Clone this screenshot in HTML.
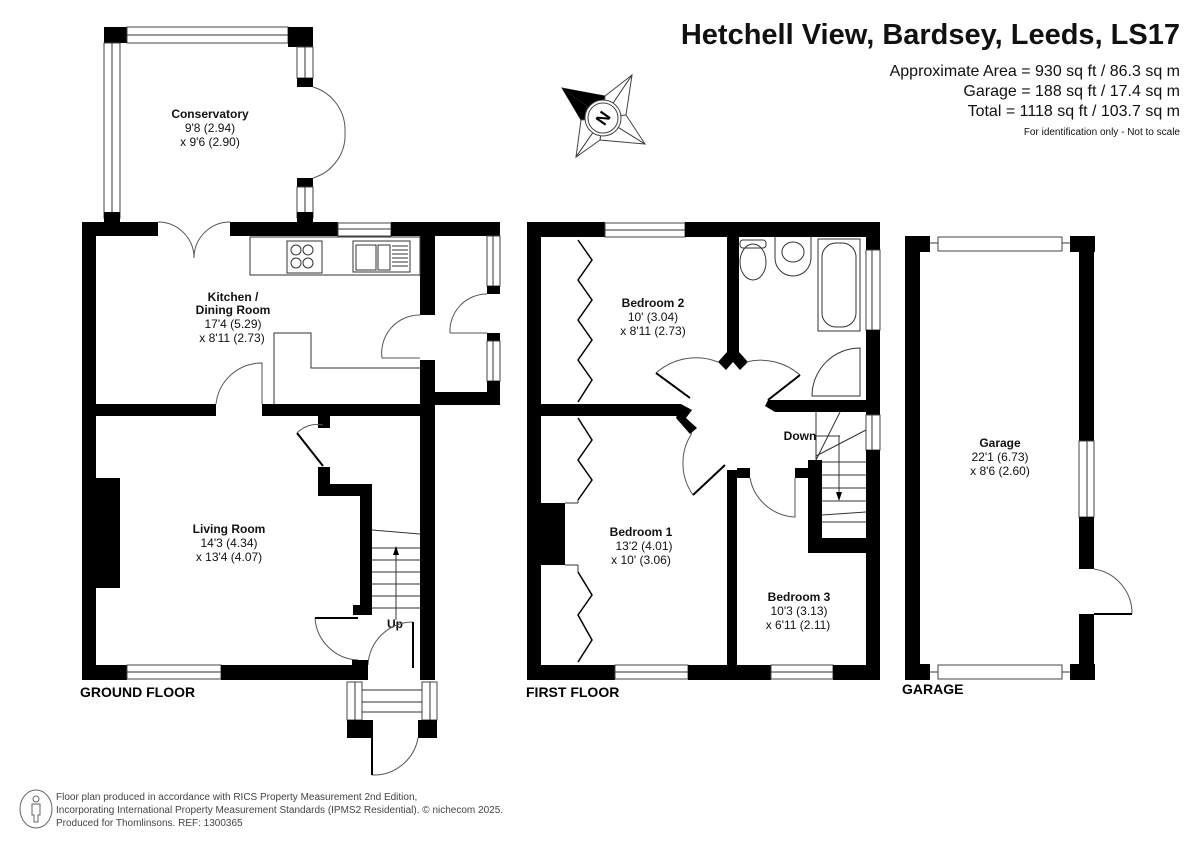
<!DOCTYPE html>
<html><head><meta charset="utf-8"><style>
html,body{margin:0;padding:0;background:#fff;}
svg{display:block;font-family:"Liberation Sans",Arial,sans-serif;}
.w{fill:#000}
.win{fill:#fff;stroke:#444;stroke-width:1}
.ln{fill:none;stroke:#333;stroke-width:1}
.arc{fill:none;stroke:#555;stroke-width:1}
.t{font-size:12px;text-anchor:middle;fill:#111}
.b{font-weight:bold}
</style></head><body>
<svg width="1200" height="849" viewBox="0 0 1200 849" xmlns="http://www.w3.org/2000/svg">
<!-- Header -->
<text x="1180" y="44" text-anchor="end" font-size="29" font-weight="bold" fill="#111">Hetchell View, Bardsey, Leeds, LS17</text>
<text x="1180" y="76" text-anchor="end" font-size="16" fill="#111">Approximate Area = 930 sq ft / 86.3 sq m</text>
<text x="1180" y="96" text-anchor="end" font-size="16" fill="#111">Garage  = 188 sq ft / 17.4 sq m</text>
<text x="1180" y="116" text-anchor="end" font-size="16" fill="#111">Total = 1118 sq ft / 103.7 sq m</text>
<text x="1180" y="135" text-anchor="end" font-size="10" fill="#111">For identification only - Not to scale</text>
<!-- Compass -->
<g>
<polygon points="562,88 605,96 603,118 581,120" fill="#fff" stroke="#444"/>
<polygon points="562,88 603,118 581,120" fill="#000"/>
<polygon points="562,88 605,96 603,118" fill="#000"/>
<polygon points="632,75 626,115 603,118 605,96" fill="#fff" stroke="#444"/>
<polygon points="645,144 600,140 603,118 626,115" fill="#fff" stroke="#444"/>
<polygon points="576,157 581,120 603,118 600,140" fill="#fff" stroke="#444"/>
<line x1="632" y1="75" x2="603" y2="118" class="ln"/>
<line x1="645" y1="144" x2="603" y2="118" class="ln"/><line x1="576" y1="157" x2="603" y2="118" class="ln"/>
<circle cx="603" cy="118" r="18" fill="#fff" stroke="#444"/>
<circle cx="603" cy="118" r="15" fill="#fff" stroke="#444"/>
<text x="603" y="124" font-size="17" font-weight="bold" text-anchor="middle" transform="rotate(-55 603 118)">N</text>
</g>

<!-- GROUND FLOOR -->
<rect x="104" y="27" width="23" height="16" class="w"/>
<rect x="127" y="27" width="161" height="16" class="win"/><line x1="127" y1="35" x2="288" y2="35" class="ln"/>
<rect x="288" y="27" width="25" height="20" class="w"/>
<rect x="104" y="43" width="16" height="175" class="win"/><line x1="112" y1="43" x2="112" y2="218" class="ln"/>
<rect x="104" y="212" width="16" height="10" class="w"/>
<rect x="297" y="47" width="16" height="31" class="win"/><line x1="305" y1="47" x2="305" y2="78" class="ln"/>
<rect x="297" y="78" width="16" height="9" class="w"/>
<rect x="297" y="178" width="16" height="9" class="w"/>
<rect x="297" y="187" width="16" height="31" class="win"/><line x1="305" y1="187" x2="305" y2="218" class="ln"/>
<rect x="297" y="212" width="16" height="10" class="w"/>
<path d="M313,87 A45,45 0 0 1 345,132 M313,178 A45,45 0 0 0 345,132" class="arc"/>
<path d="M158,222 A36,36 0 0 1 194,258 M230,222 A36,36 0 0 0 194,258" class="arc"/>
<rect x="82" y="222" width="76" height="14" class="w"/>
<rect x="230" y="222" width="108" height="14" class="w"/>
<rect x="338" y="223" width="53" height="13" class="win"/><line x1="338" y1="229" x2="391" y2="229" class="ln"/>
<rect x="391" y="222" width="109" height="14" class="w"/>
<rect x="82" y="222" width="14" height="458" class="w"/>
<rect x="420" y="222" width="15" height="93" class="w"/>
<rect x="420" y="360" width="15" height="320" class="w"/>
<rect x="487" y="222" width="13" height="14" class="w"/>
<rect x="487" y="236" width="13" height="50" class="win"/><line x1="493" y1="236" x2="493" y2="286" class="ln"/>
<rect x="487" y="286" width="13" height="8" class="w"/>
<rect x="487" y="333" width="13" height="8" class="w"/>
<rect x="487" y="341" width="13" height="40" class="win"/><line x1="493" y1="341" x2="493" y2="381" class="ln"/>
<rect x="487" y="381" width="13" height="24" class="w"/>
<rect x="420" y="392" width="80" height="13" class="w"/>
<path d="M382,358 A38,38 0 0 1 420,315 M382,358 L420,358" class="arc"/>
<path d="M450,333 A37,37 0 0 1 487,294 M450,333 L487,333" class="arc"/>
<rect x="96" y="404" width="120" height="12" class="w"/>
<rect x="262" y="404" width="158" height="12" class="w"/>
<path d="M216,404 A46,46 0 0 1 262,363 L262,404" class="arc"/>
<rect x="250" y="237" width="170" height="38" class="ln"/>
<rect x="287" y="241" width="35" height="32" class="ln"/>
<circle cx="296" cy="250" r="5" class="ln"/><circle cx="308" cy="250" r="5" class="ln"/><circle cx="296" cy="263" r="5" class="ln"/><circle cx="308" cy="263" r="5" class="ln"/>
<rect x="353" y="241" width="57" height="31" class="ln"/>
<rect x="356" y="245" width="20" height="25" class="ln"/><rect x="378" y="245" width="12" height="25" class="ln"/>
<path d="M392,246 h16 M392,250 h16 M392,254 h16 M392,258 h16 M392,262 h16 M392,266 h16" class="ln"/>
<path d="M274,404 V333 H311 V368 H420" class="ln"/>
<rect x="96" y="478" width="24" height="110" class="w"/>
<rect x="82" y="665" width="45" height="15" class="w"/>
<rect x="127" y="665" width="94" height="14" class="win"/><line x1="127" y1="672" x2="221" y2="672" class="ln"/>
<rect x="221" y="665" width="145" height="15" class="w"/>
<rect x="318" y="416" width="12" height="12" class="w"/>
<line x1="297" y1="433" x2="323" y2="466" stroke="#000" stroke-width="2"/>
<path d="M297,433 A28,28 0 0 1 323,425" class="arc"/>
<rect x="318" y="467" width="12" height="28" class="w"/>
<rect x="318" y="484" width="54" height="12" class="w"/>
<rect x="360" y="484" width="12" height="130" class="w"/>
<rect x="353" y="605" width="19" height="10" class="w"/>
<path d="M372,530 L420,534 M372,548 H420 M372,560 H420 M372,572 H420 M372,584 H420 M372,596 H420 M372,608 H420" class="ln"/>
<line x1="396" y1="620" x2="396" y2="548" class="ln"/><polygon points="393,555 396,546 399,555" fill="#000"/>
<path d="M315,618 A45,45 0 0 0 358,660" class="arc"/>
<line x1="315" y1="618" x2="358" y2="618" stroke="#000" stroke-width="2"/>
<text x="395" y="628" class="t b" font-size="10">Up</text>
<path d="M368,665 A45,45 0 0 1 413,622" class="arc"/>
<line x1="413" y1="622" x2="413" y2="668" stroke="#000" stroke-width="2"/>
<rect x="352" y="660" width="16" height="20" class="w"/>
<rect x="347" y="682" width="15" height="38" class="win"/><line x1="355" y1="682" x2="355" y2="720" class="ln"/>
<rect x="422" y="682" width="15" height="38" class="win"/><line x1="430" y1="682" x2="430" y2="720" class="ln"/>
<path d="M362,690 H422 M362,702 H422 M362,712 H422" class="ln"/>
<rect x="347" y="720" width="26" height="18" class="w"/>
<rect x="418" y="720" width="19" height="18" class="w"/>
<path d="M372,775 A45,45 0 0 0 418,738" class="arc"/><line x1="372" y1="738" x2="372" y2="775" stroke="#000" stroke-width="2"/>
<text x="210" y="118" class="t b">Conservatory</text><text x="210" y="132" class="t">9'8 (2.94)</text><text x="210" y="146" class="t">x 9'6 (2.90)</text>
<text x="233" y="301" class="t b">Kitchen /</text><text x="233" y="314" class="t b">Dining Room</text><text x="233" y="328" class="t">17'4 (5.29)</text><text x="232" y="342" class="t">x 8'11 (2.73)</text>
<text x="229" y="533" class="t b">Living Room</text><text x="229" y="547" class="t">14'3 (4.34)</text><text x="229" y="561" class="t">x 13'4 (4.07)</text>
<text x="80" y="697" font-size="14" font-weight="bold">GROUND FLOOR</text>

<!-- FIRST FLOOR -->
<rect x="527" y="222" width="78" height="15" class="w"/>
<rect x="605" y="223" width="80" height="14" class="win"/><line x1="605" y1="230" x2="685" y2="230" class="ln"/>
<rect x="685" y="222" width="195" height="15" class="w"/>
<rect x="527" y="222" width="14" height="458" class="w"/>
<rect x="866" y="222" width="14" height="28" class="w"/>
<rect x="866" y="250" width="14" height="80" class="win"/><line x1="872" y1="250" x2="872" y2="330" class="ln"/>
<rect x="866" y="330" width="14" height="85" class="w"/>
<rect x="866" y="415" width="14" height="35" class="win"/><line x1="872" y1="415" x2="872" y2="450" class="ln"/>
<rect x="866" y="450" width="14" height="230" class="w"/>
<rect x="527" y="665" width="88" height="15" class="w"/>
<rect x="615" y="665" width="73" height="14" class="win"/><line x1="615" y1="672" x2="688" y2="672" class="ln"/>
<rect x="688" y="665" width="83" height="15" class="w"/>
<rect x="771" y="665" width="62" height="14" class="win"/><line x1="771" y1="672" x2="833" y2="672" class="ln"/>
<rect x="833" y="665" width="47" height="15" class="w"/>
<rect x="727" y="237" width="12" height="118" class="w"/>
<polygon points="718,362 727,352 739,352 748,362 740,370 733,362 726,370" class="w"/>
<rect x="541" y="404" width="140" height="12" class="w"/>
<polygon points="681,404 692,410 686,418 697,428 690,434 676,418" class="w"/>
<polygon points="768,400 866,400 866,412 775,412 765,406" class="w"/>
<rect x="727" y="470" width="10" height="195" class="w"/>
<rect x="737" y="468" width="13" height="10" class="w"/>
<rect x="795" y="468" width="13" height="10" class="w"/>
<rect x="808" y="460" width="14" height="93" class="w"/>
<rect x="808" y="538" width="58" height="15" class="w"/>
<rect x="541" y="503" width="24" height="62" class="w"/>
<path d="M656,373 A60,60 0 0 1 718,362 M746,362 A60,60 0 0 1 800,375" class="arc"/>
<line x1="656" y1="373" x2="690" y2="398" stroke="#000" stroke-width="2"/>
<line x1="800" y1="375" x2="768" y2="400" stroke="#000" stroke-width="2"/>
<path d="M692,433 A55,55 0 0 0 693,495" class="arc"/>
<line x1="693" y1="495" x2="725" y2="465" stroke="#000" stroke-width="2"/>
<path d="M750,478 A48,48 0 0 0 795,517 V478" class="arc"/>
<path d="M816,412 V460 M816,436 H840 M816,460 L840,412 M816,456 L866,430 M822,462 H866 M822,475 H866 M822,488 H866 M822,501 H866 M822,515 L866,512 M822,522 H866" class="ln"/>
<line x1="839" y1="436" x2="839" y2="500" class="ln"/><polygon points="836,492 839,501 842,492" fill="#000"/>
<text x="800" y="440" class="t b" font-size="10">Down</text>
<ellipse cx="753" cy="262" rx="13" ry="18" class="ln"/><rect x="740" y="240" width="26" height="8" rx="3" class="ln"/>
<path d="M775,237 V258 A18,18 0 0 0 811,258 V237" class="ln"/><ellipse cx="793" cy="252" rx="11" ry="10" class="ln"/>
<rect x="818" y="239" width="42" height="92" class="ln"/><rect x="822" y="243" width="34" height="84" rx="14" class="ln"/>
<path d="M812,396 H860 V348 A48,48 0 0 0 812,396 Z" class="ln"/>
<path d="M578,240 L592,260 L578,280 L592,300 L578,320 L592,340 L578,360 L592,380 L578,402" fill="none" stroke="#000" stroke-width="1.5"/>
<path d="M578,418 L592,440 L578,460 L592,480 L578,500" fill="none" stroke="#000" stroke-width="1.5"/>
<path d="M578,572 L592,595 L578,615 L592,640 L578,662" fill="none" stroke="#000" stroke-width="1.5"/>
<path d="M565,503 H578 M565,565 H578 M578,500 V503 M578,565 V572" class="ln"/>
<text x="653" y="307" class="t b">Bedroom 2</text><text x="653" y="321" class="t">10' (3.04)</text><text x="653" y="335" class="t">x 8'11 (2.73)</text>
<text x="641" y="536" class="t b">Bedroom 1</text><text x="644" y="550" class="t">13'2 (4.01)</text><text x="641" y="564" class="t">x 10' (3.06)</text>
<text x="799" y="601" class="t b">Bedroom 3</text><text x="799" y="615" class="t">10'3 (3.13)</text><text x="798" y="629" class="t">x 6'11 (2.11)</text>
<text x="526" y="697" font-size="14" font-weight="bold">FIRST FLOOR</text>

<!-- GARAGE -->
<rect x="905" y="236" width="25" height="16" class="w"/>
<rect x="938" y="237" width="124" height="14" class="win"/>
<line x1="930" y1="243" x2="938" y2="243" class="ln"/><line x1="1062" y1="243" x2="1070" y2="243" class="ln"/>
<rect x="1070" y="236" width="25" height="16" class="w"/>
<rect x="905" y="236" width="15" height="444" class="w"/>
<rect x="1079" y="236" width="15" height="205" class="w"/>
<rect x="1079" y="441" width="15" height="76" class="win"/><line x1="1087" y1="441" x2="1087" y2="517" class="ln"/>
<rect x="1079" y="517" width="15" height="52" class="w"/>
<rect x="1079" y="614" width="15" height="66" class="w"/>
<path d="M1094,569 A45,45 0 0 1 1132,614" class="arc"/><line x1="1094" y1="614" x2="1132" y2="614" stroke="#000" stroke-width="2"/>
<rect x="905" y="664" width="25" height="16" class="w"/>
<rect x="938" y="665" width="124" height="14" class="win"/>
<line x1="930" y1="672" x2="938" y2="672" class="ln"/><line x1="1062" y1="672" x2="1070" y2="672" class="ln"/>
<rect x="1070" y="664" width="25" height="16" class="w"/>
<text x="1000" y="447" class="t b">Garage</text><text x="1000" y="461" class="t">22'1 (6.73)</text><text x="1000" y="475" class="t">x 8'6 (2.60)</text>
<text x="902" y="694" font-size="14" font-weight="bold">GARAGE</text>

<ellipse cx="36" cy="809" rx="16" ry="19" fill="none" stroke="#666"/>
<circle cx="36" cy="799" r="3" fill="none" stroke="#666"/>
<path d="M32,804 H40 V815 H38 V822 H34 V815 H32 Z" fill="none" stroke="#666"/>
<g font-size="10" fill="#444">
<text x="56" y="800">Floor plan produced in accordance with RICS Property Measurement 2nd Edition,</text>
<text x="56" y="813">Incorporating International Property Measurement Standards (IPMS2 Residential).   © nichecom 2025.</text>
<text x="56" y="826">Produced for Thomlinsons.   REF:  1300365</text>
</g>
</svg>
</body></html>
